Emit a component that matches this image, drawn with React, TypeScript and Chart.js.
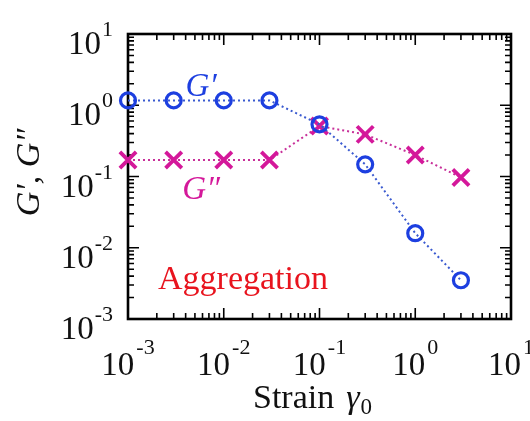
import React, { useEffect, useRef } from "react";
import { Chart, registerables } from "chart.js";

Chart.register(...registerables);

const strainValues = [0.001, 0.003, 0.01, 0.03, 0.1, 0.3, 1, 3];
const gPrimeValues = [1.17, 1.17, 1.17, 1.17, 0.54, 0.148, 0.016, 0.0035];
const gDoublePrimeValues = [0.17, 0.17, 0.17, 0.17, 0.51, 0.39, 0.2, 0.097];
const xTickExponents = [-3, -2, -1, 0, 1];
const yTickExponents = [-3, -2, -1, 0, 1];
const gPrimeLabel = "G\u2032";
const gDoublePrimeLabel = "G\u2033";
const yTitle = "G\u2032, G\u2033";
const annotationText = "Aggregation";

const SERIF = "'Liberation Serif', 'Times New Roman', serif";
const BLUE = "#1d3fe0";
const BLUE_LINE = "#3a5ad0";
const MAGENTA = "#d4189a";
const MAGENTA_LINE = "#c8309a";

const framePlugin = {
  id: "framePlugin",
  beforeDatasetsDraw(chart: any) {
    const ctx = chart.ctx;
    const { left, right, top, bottom } = chart.chartArea;
    const xs = chart.scales.x;
    const ys = chart.scales.y;
    ctx.save();
    ctx.strokeStyle = "#000";
    ctx.lineWidth = 1.6;
    const major = 11;
    const minor = 6;
    const xLast = xTickExponents[xTickExponents.length - 1];
    for (let d = xTickExponents[0]; d <= xLast; d++) {
      for (let m = 1; m <= 9; m++) {
        if (d === xLast && m > 1) break;
        const px = xs.getPixelForValue(m * Math.pow(10, d));
        const len = m === 1 ? major : minor;
        ctx.beginPath();
        ctx.moveTo(px, bottom);
        ctx.lineTo(px, bottom - len);
        ctx.moveTo(px, top);
        ctx.lineTo(px, top + len);
        ctx.stroke();
      }
    }
    const yLast = yTickExponents[yTickExponents.length - 1];
    for (let d = yTickExponents[0]; d <= yLast; d++) {
      for (let m = 1; m <= 9; m++) {
        if (d === yLast && m > 1) break;
        const py = ys.getPixelForValue(m * Math.pow(10, d));
        const len = m === 1 ? major : minor;
        ctx.beginPath();
        ctx.moveTo(left, py);
        ctx.lineTo(left + len, py);
        ctx.moveTo(right, py);
        ctx.lineTo(right - len, py);
        ctx.stroke();
      }
    }
    ctx.lineWidth = 2.6;
    ctx.strokeRect(left, top, right - left, bottom - top);
    ctx.restore();
  },
  afterDraw(chart: any) {
    const ctx = chart.ctx;
    const { left, right, top, bottom } = chart.chartArea;
    const xs = chart.scales.x;
    const ys = chart.scales.y;
    ctx.save();
    ctx.fillStyle = "#111";
    ctx.textBaseline = "alphabetic";
    ctx.textAlign = "left";
    const baseFont = `33px ${SERIF}`;
    const expFont = `22px ${SERIF}`;
    for (const e of yTickExponents) {
      const py = ys.getPixelForValue(Math.pow(10, e));
      const expStr = e < 0 ? "-" + Math.abs(e) : String(e);
      ctx.font = expFont;
      const ew = ctx.measureText(expStr).width;
      ctx.font = baseFont;
      const bw = ctx.measureText("10").width;
      const rightEdge = left - 15;
      ctx.fillText("10", rightEdge - ew - bw - 1, py + 20);
      ctx.font = expFont;
      ctx.fillText(expStr, rightEdge - ew, py + 2);
    }
    for (const e of xTickExponents) {
      const px = xs.getPixelForValue(Math.pow(10, e));
      const expStr = e < 0 ? "-" + Math.abs(e) : String(e);
      ctx.font = expFont;
      const ew = ctx.measureText(expStr).width;
      ctx.font = baseFont;
      const bw = ctx.measureText("10").width;
      const total = bw + 2 + ew;
      const x0 = px - total / 2;
      ctx.fillText("10", x0, bottom + 56);
      ctx.font = expFont;
      ctx.fillText(expStr, x0 + bw + 2, bottom + 35);
    }
    // x title
    const titleBase = bottom + 89;
    let tx = 253;
    ctx.font = `34px ${SERIF}`;
    ctx.fillText("Strain", tx, titleBase);
    tx += ctx.measureText("Strain").width + 12;
    ctx.font = `italic 34px ${SERIF}`;
    ctx.fillText("\u03b3", tx, titleBase);
    tx += ctx.measureText("\u03b3").width + 1;
    ctx.font = `23px ${SERIF}`;
    ctx.fillText("0", tx, titleBase + 6);
    // y title
    ctx.save();
    ctx.translate(39, (top + bottom) / 2 - 4);
    ctx.rotate(-Math.PI / 2);
    ctx.font = `italic 34px ${SERIF}`;
    ctx.textAlign = "center";
    ctx.fillText(yTitle, 0, 0);
    ctx.restore();
    // series labels
    ctx.font = `italic 33px ${SERIF}`;
    ctx.textAlign = "center";
    ctx.fillStyle = BLUE;
    ctx.fillText(gPrimeLabel, xs.getPixelForValue(0.0058), ys.getPixelForValue(1.36));
    ctx.fillStyle = MAGENTA;
    ctx.fillText(gDoublePrimeLabel, xs.getPixelForValue(0.0058), ys.getPixelForValue(0.0487));
    // annotation
    ctx.font = `34px ${SERIF}`;
    ctx.textAlign = "left";
    ctx.fillStyle = "#e8141e";
    ctx.fillText(annotationText, xs.getPixelForValue(0.00206), ys.getPixelForValue(0.00266));
    ctx.restore();
  },
};

export default function App() {
  const ref = useRef<HTMLCanvasElement | null>(null);
  useEffect(() => {
    if (!ref.current) return;
    const chart = new Chart(ref.current, {
      type: "line",
      data: {
        datasets: [
          {
            label: gPrimeLabel,
            data: strainValues.map((x, i) => ({ x, y: gPrimeValues[i] })),
            borderColor: BLUE_LINE,
            borderWidth: 2,
            borderDash: [2, 3],
            pointStyle: "circle",
            pointRadius: 7.5,
            pointBorderWidth: 3.2,
            pointBorderColor: BLUE,
            pointBackgroundColor: "rgba(0,0,0,0)",
            fill: false,
            clip: false as any,
          },
          {
            label: gDoublePrimeLabel,
            data: strainValues.map((x, i) => ({ x, y: gDoublePrimeValues[i] })),
            borderColor: MAGENTA_LINE,
            borderWidth: 2,
            borderDash: [2, 3],
            pointStyle: "crossRot",
            pointRadius: 11.5,
            pointBorderWidth: 3.8,
            pointBorderColor: MAGENTA,
            pointBackgroundColor: MAGENTA,
            fill: false,
            clip: false as any,
          },
        ],
      },
      options: {
        animation: false,
        responsive: false,
        layout: { padding: { left: 128, top: 34, right: 19, bottom: 102 } },
        plugins: { legend: { display: false }, tooltip: { enabled: false } },
        scales: {
          x: { type: "logarithmic", min: 0.001, max: 10, display: false },
          y: { type: "logarithmic", min: 0.001, max: 10, display: false },
        },
      },
      plugins: [framePlugin],
    });
    return () => chart.destroy();
  }, []);
  return (
    <div style={{ position: "absolute", left: 0, top: 0, width: 530, height: 421 }}>
      <canvas ref={ref} width={530} height={421} style={{ display: "block" }} />
    </div>
  );
}
